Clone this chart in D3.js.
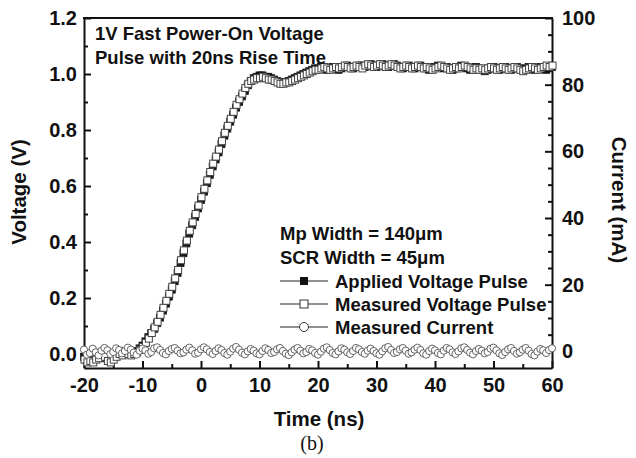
<!DOCTYPE html>
<html><head><meta charset="utf-8">
<script src="https://cdn.jsdelivr.net/npm/d3@7"></script>
<style>
body{margin:0;background:#fff;}
text{font-family:"Liberation Sans",Arial,sans-serif;}
</style></head>
<body><svg id="c" width="636" height="458"></svg>
<script>
// ---- data ----
const tStart = -20, tStep = 0.5;
const appliedV = [
 -0.010,-0.020,-0.015,-0.020,-0.010,-0.005,-0.010,-0.015,-0.005,0.000,-0.005,0.005,0.010,0.005,0.000,0.005,0.010,0.005,0.010,
 0.020,0.030,0.045,0.060,0.075,0.090,0.110,0.130,0.155,0.180,
 0.205,0.230,0.260,0.290,0.325,0.360,0.395,0.430,0.460,0.490,
 0.520,0.550,0.580,0.610,0.640,0.670,0.695,0.720,0.750,0.780,
 0.805,0.830,0.855,0.880,0.900,0.920,0.940,0.960,0.975,0.985,
 0.990,0.995,0.995,0.990,0.990,0.985,0.980,0.975,0.970,0.970,
 0.970,0.975,0.980,0.985,0.990,0.995,1.000,1.005,1.010,1.015,
 1.020,1.020,
 1.025,1.020,1.015,1.020,1.025,1.020,1.015,1.020,1.025,1.030,
 1.025,1.020,1.025,1.030,1.030,1.025,1.030,1.035,1.030,1.025,
 1.030,1.035,1.030,1.025,1.030,1.035,1.030,1.025,1.020,1.025,
 1.030,1.025,1.020,1.025,1.030,1.025,1.020,1.015,1.020,1.025,
 1.030,1.025,1.020,1.025,1.020,1.015,1.020,1.025,1.030,1.025,
 1.020,1.015,1.020,1.025,1.020,1.015,1.010,1.015,1.020,1.025,
 1.020,1.015,1.020,1.025,1.020,1.015,1.020,1.025,1.020,1.015,
 1.020,1.025,1.020,1.015,1.020,1.025,1.020,1.015,1.020,1.025
];
const measuredV = [
 -0.020,-0.030,-0.025,-0.030,-0.020,-0.015,0.000,-0.010,-0.025,-0.030,-0.020,-0.010,0.000,-0.005,0.005,0.000,-0.005,0.000,0.005,
 0.015,0.025,0.040,0.055,0.075,0.095,0.115,0.140,0.165,0.190,
 0.215,0.240,0.270,0.300,0.335,0.370,0.405,0.440,0.470,0.500,
 0.530,0.560,0.590,0.620,0.650,0.680,0.705,0.730,0.760,0.790,
 0.815,0.840,0.865,0.890,0.910,0.930,0.950,0.965,0.975,0.980,
 0.985,0.985,0.990,0.985,0.980,0.980,0.975,0.970,0.965,0.965,
 0.970,0.970,0.975,0.980,0.985,0.990,0.995,1.000,1.005,1.010,
 1.015,1.015,
 1.020,1.025,1.020,1.015,1.020,1.025,1.020,1.025,1.030,1.025,
 1.020,1.025,1.030,1.025,1.020,1.030,1.035,1.030,1.025,1.030,
 1.035,1.030,1.025,1.030,1.035,1.030,1.025,1.020,1.025,1.030,
 1.025,1.020,1.025,1.030,1.025,1.020,1.025,1.020,1.015,1.020,
 1.025,1.030,1.025,1.020,1.015,1.020,1.025,1.020,1.025,1.030,
 1.025,1.020,1.015,1.020,1.015,1.020,1.015,1.020,1.025,1.020,
 1.015,1.020,1.025,1.020,1.015,1.020,1.025,1.020,1.015,1.010,
 1.015,1.020,1.025,1.020,1.015,1.020,1.025,1.030,1.025,1.030
];
const measuredI = [
 0.5,-1.0,-0.5,0.8,-0.3,-1.2,0.2,1.0,0.3,-0.8,
 -0.2,0.9,0.4,-0.6,0.1,1.1,0.5,-0.4,-1.0,0.2,
 0.8,0.3,-0.7,-0.2,0.9,1.2,0.4,-0.5,-0.9,0.1,
 0.7,1.0,0.2,-0.6,-0.3,0.5,1.1,0.3,-0.7,-0.4,
 0.6,1.2,0.6,-0.2,-0.8,0.1,0.9,0.4,-0.5,-1.0,
 -0.1,0.8,1.3,0.5,-0.4,-0.9,0.0,0.7,0.2,-0.6,
 -0.9,0.1,0.9,0.4,-0.5,-0.2,0.6,1.0,0.1,-0.7,
 -1.1,-0.3,0.5,1.0,0.2,-0.6,-0.2,0.7,0.3,-0.5,
 -1.0,-0.1,0.8,1.2,0.4,-0.5,-0.9,0.0,0.9,0.5,
 -0.3,-0.8,0.1,1.0,0.6,-0.2,-0.7,0.2,0.8,0.1,
 -0.6,-1.0,0.0,0.9,1.3,0.4,-0.5,-0.2,0.6,1.0,
 0.2,-0.7,-0.3,0.5,1.1,0.4,-0.6,-1.0,0.1,0.8,
 0.3,-0.5,-0.9,0.2,1.0,0.6,-0.3,-0.8,0.0,0.9,
 1.2,0.4,-0.4,-0.9,0.1,0.7,0.2,-0.6,-0.2,0.8,
 1.1,0.3,-0.6,-1.1,-0.2,0.6,1.0,0.1,-0.7,-0.3,
 0.5,1.0,0.2,-0.8,-1.2,-0.1,0.7,0.3,-0.5,0.4,
 0.9
];
const xTicks = [-20,-10,0,10,20,30,40,50,60];
const yLTicks = [0.0,0.2,0.4,0.6,0.8,1.0,1.2];
const yRTicks = [0,20,40,60,80,100];
const legendLabels = ["Applied Voltage Pulse","Measured Voltage Pulse","Measured Current"];
const noteLines = ["1V Fast Power-On Voltage","Pulse with 20ns Rise Time"];
const paramLines = ["Mp Width = 140\u03bcm","SCR Width = 45\u03bcm"];

// ---- layout ----
const L=84,R=552,T=18,B=368;
const svg=d3.select("#c");
const x=d3.scaleLinear().domain([-20,60]).range([L,R]);
const yL=d3.scaleLinear().domain([-0.05,1.2]).range([B,T]);
const yR=d3.scaleLinear().domain([-5,100]).range([B,T]);
const times=appliedV.map((_,i)=>tStart+i*tStep);

function styleAxis(g){
  g.selectAll("path").attr("stroke","#111").attr("stroke-width",2);
  g.selectAll("line").attr("stroke","#111").attr("stroke-width",2);
  g.selectAll("text").attr("font-size",20).attr("font-weight","bold").attr("fill","#111");
}
// minor ticks
const minorX=d3.range(-15,60,10);
const minorYL=d3.range(0.1,1.2,0.2);
const minorYR=d3.range(-0,100,5).filter(v=>v%20!==0);
svg.append("g").attr("transform",`translate(0,${B})`)
  .call(d3.axisBottom(x).tickValues(minorX).tickSize(-4).tickFormat(""))
  .call(g=>{g.select("path").remove();g.selectAll("line").attr("stroke","#111").attr("stroke-width",2);});
svg.append("g").attr("transform",`translate(${L},0)`)
  .call(d3.axisLeft(yL).tickValues(minorYL).tickSize(-4).tickFormat(""))
  .call(g=>{g.select("path").remove();g.selectAll("line").attr("stroke","#111").attr("stroke-width",2);});
svg.append("g").attr("transform",`translate(${R},0)`)
  .call(d3.axisRight(yR).tickValues(minorYR).tickSize(-4).tickFormat(""))
  .call(g=>{g.select("path").remove();g.selectAll("line").attr("stroke","#111").attr("stroke-width",2);});

// major axes
svg.append("g").attr("transform",`translate(0,${B})`)
  .call(d3.axisBottom(x).tickValues(xTicks).tickSizeInner(-7).tickSizeOuter(0).tickPadding(10).tickFormat(d=>String(d)))
  .call(styleAxis);
svg.append("g").attr("transform",`translate(${L},0)`)
  .call(d3.axisLeft(yL).tickValues(yLTicks).tickSizeInner(-7).tickSizeOuter(0).tickPadding(7).tickFormat(d=>d.toFixed(1)))
  .call(styleAxis);
svg.append("g").attr("transform",`translate(${R},0)`)
  .call(d3.axisRight(yR).tickValues(yRTicks).tickSizeInner(-7).tickSizeOuter(0).tickPadding(10).tickFormat(d=>String(d)))
  .call(styleAxis);
// top frame
svg.append("line").attr("x1",L-1).attr("x2",R+1).attr("y1",T).attr("y2",T).attr("stroke","#111").attr("stroke-width",2);

// series
const lineV=(arr,ys)=>d3.line().x((d,i)=>x(times[i])).y(d=>ys(d))(arr);
const sq=7;
svg.append("path").attr("d",lineV(appliedV,yL)).attr("fill","none").attr("stroke","#111").attr("stroke-width",0.8);
svg.append("g").selectAll("rect").data(appliedV).join("rect")
  .attr("x",(d,i)=>x(times[i])-sq/2).attr("y",d=>yL(d)-sq/2).attr("width",sq).attr("height",sq)
  .attr("fill","#111").attr("stroke","#111").attr("stroke-width",0.8);
svg.append("path").attr("d",lineV(measuredV,yL)).attr("fill","none").attr("stroke","#333").attr("stroke-width",0.8);
svg.append("g").selectAll("rect").data(measuredV).join("rect")
  .attr("x",(d,i)=>x(times[i])-sq/2+0.5).attr("y",d=>yL(d)-sq/2).attr("width",sq).attr("height",sq)
  .attr("fill","#fff").attr("stroke","#444").attr("stroke-width",1);
svg.append("path").attr("d",lineV(measuredI,yR)).attr("fill","none").attr("stroke","#555").attr("stroke-width",0.8);
svg.append("g").selectAll("circle").data(measuredI).join("circle")
  .attr("cx",(d,i)=>x(times[i])).attr("cy",d=>yR(d)).attr("r",3.6)
  .attr("fill","#fff").attr("stroke","#555").attr("stroke-width",0.9);

// annotations
const fs=18.5;
noteLines.forEach((s,i)=>svg.append("text").attr("x",95).attr("y",40+i*24)
  .attr("font-size",fs).attr("font-weight","bold").attr("fill","#111").text(s));
paramLines.forEach((s,i)=>svg.append("text").attr("x",280).attr("y",240+i*24)
  .attr("font-size",fs).attr("font-weight","bold").attr("fill","#111").text(s));
// legend
legendLabels.forEach((s,i)=>{
  const yy=281+i*23;
  svg.append("line").attr("x1",280).attr("x2",328).attr("y1",yy).attr("y2",yy).attr("stroke","#222").attr("stroke-width",1);
  if(i===0) svg.append("rect").attr("x",300).attr("y",yy-4).attr("width",8).attr("height",8).attr("fill","#111");
  if(i===1) svg.append("rect").attr("x",300).attr("y",yy-4).attr("width",8).attr("height",8).attr("fill","#fff").attr("stroke","#333");
  if(i===2) svg.append("circle").attr("cx",304).attr("cy",yy).attr("r",4.5).attr("fill","#fff").attr("stroke","#333");
  svg.append("text").attr("x",335).attr("y",yy+7).attr("font-size",fs).attr("font-weight","bold").attr("fill","#111").text(s);
});
// axis titles
svg.append("text").attr("x",319).attr("y",426).attr("text-anchor","middle")
  .attr("font-size",20.5).attr("font-weight","bold").attr("fill","#111").text("Time (ns)");
svg.append("text").attr("transform","translate(26,192) rotate(-90)").attr("text-anchor","middle")
  .attr("font-size",20.5).attr("font-weight","bold").attr("fill","#111").text("Voltage (V)");
svg.append("text").attr("transform","translate(612,200) rotate(90)").attr("text-anchor","middle")
  .attr("font-size",20.5).attr("font-weight","bold").attr("fill","#111").text("Current (mA)");
svg.append("text").attr("x",312).attr("y",450).attr("text-anchor","middle")
  .style("font-family","'Liberation Serif','Times New Roman',serif").attr("font-size",20).attr("fill","#111").text("(b)");
</script></body></html>
